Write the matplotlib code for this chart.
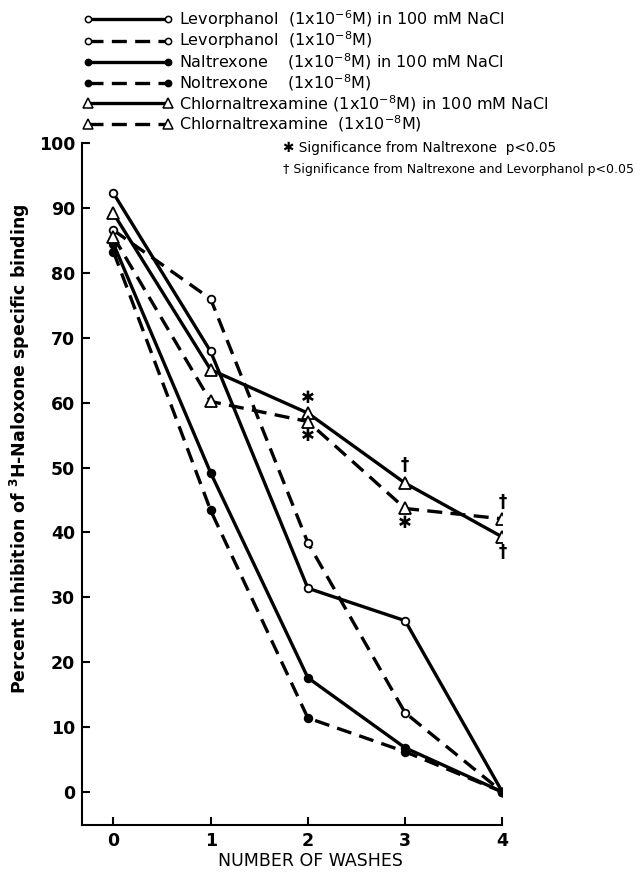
import matplotlib
matplotlib.use('Agg')
from matplotlib import pyplot as plt

plt.rcParams['font.family'] = ['DejaVu Sans']
plt.rcParams['mathtext.default'] = 'regular'

washes = [0, 1, 2, 3, 4]
levorphanol_nacl = [92.3, 67.9, 31.4, 26.4, 0]
levorphanol = [86.6, 76.0, 38.4, 12.2, 0]
naltrexone_nacl = [84.5, 49.2, 17.6, 6.8, 0]
naltrexone = [83.3, 43.4, 11.4, 6.2, 0]
cna_nacl = [89.2, 65.1, 58.4, 47.6, 39.3]
cna = [85.6, 60.2, 57.1, 43.7, 42.1]

labels = [
    'Levorphanol  (1x10$^{-6}$M) in 100 mM NaCl',
    'Levorphanol  (1x10$^{-8}$M)',
    'Naltrexone    (1x10$^{-8}$M) in 100 mM NaCl',
    'Noltrexone    (1x10$^{-8}$M)',
    'Chlornaltrexamine (1x10$^{-8}$M) in 100 mM NaCl',
    'Chlornaltrexamine  (1x10$^{-8}$M)',
]

star_x = [2, 2, 3]
star_y = [60.8, 54.8, 41.4]
dagger_x = [3, 4, 4]
dagger_y = [50.4, 44.7, 37.0]

fig = plt.figure(figsize=(6.4, 8.72), dpi=100)
ax = fig.add_axes([0.1286, 0.0539, 0.6563, 0.7818])

dash = (0, (4.5, 2.5))
series = [
    (levorphanol_nacl, 'o', 'white', '-'),
    (levorphanol, 'o', 'white', dash),
    (naltrexone_nacl, 'o', 'black', '-'),
    (naltrexone, 'o', 'black', dash),
    (cna_nacl, '^', 'white', '-'),
    (cna, '^', 'white', dash),
]
handles = []
for (vals, mk, fc, ls), lab in zip(series, labels):
    ms = 5.5 if mk == 'o' else 8
    ax.plot(washes, vals, color='black', linestyle=ls, linewidth=2.4,
            marker=mk, markersize=ms, markerfacecolor=fc,
            markeredgecolor='black', markeredgewidth=1.3)
    h, = ax.plot([], [], color='black', linestyle=ls, linewidth=2.4,
                 marker=mk, markersize=ms - 1, markerfacecolor=fc,
                 markeredgecolor='black', markeredgewidth=1.1, label=lab)
    handles.append(h)

for x, y in zip(star_x, star_y):
    ax.text(x, y, '✱', ha='center', va='center', fontsize=12)
for x, y in zip(dagger_x, dagger_y):
    ax.text(x, y, '†', ha='center', va='center', fontsize=12, fontweight='bold')

ax.set_xlim(-0.32, 4.0)
ax.set_ylim(-5.1, 100)
ax.set_xticks(washes)
ax.set_yticks(range(0, 101, 10))
ax.tick_params(direction='in', length=6, width=1.5, labelsize=12.5, pad=5)
for t in ax.get_xticklabels() + ax.get_yticklabels():
    t.set_fontweight('bold')
ax.spines['top'].set_visible(False)
ax.spines['right'].set_visible(False)
ax.spines['left'].set_linewidth(1.5)
ax.spines['bottom'].set_linewidth(1.5)

fig.text(20 / 640, 1 - 449 / 872,
         'Percent inhibition of $^{3}$H-Naloxone specific binding',
         rotation=90, ha='center', va='center', fontsize=12.5, fontweight='bold')
fig.text(310 / 640, 1 - 861 / 872, 'NUMBER OF WASHES',
         ha='center', va='center', fontsize=12.5)

fig.text(283 / 640, 1 - 148 / 872, '✱ Significance from Naltrexone  p<0.05',
         ha='left', va='center', fontsize=9.8)
fig.text(283 / 640, 1 - 170 / 872,
         '† Significance from Naltrexone and Levorphanol p<0.05',
         ha='left', va='center', fontsize=9.0)

fig.legend(handles=handles, loc='upper left',
           bbox_to_anchor=(83 / 640, 1 - 8 / 872),
           frameon=False, numpoints=2, handlelength=5.6, handletextpad=0.4,
           labelspacing=0.0, fontsize=11.5, borderaxespad=0, borderpad=0)

fig.savefig('out.png', dpi=100)
